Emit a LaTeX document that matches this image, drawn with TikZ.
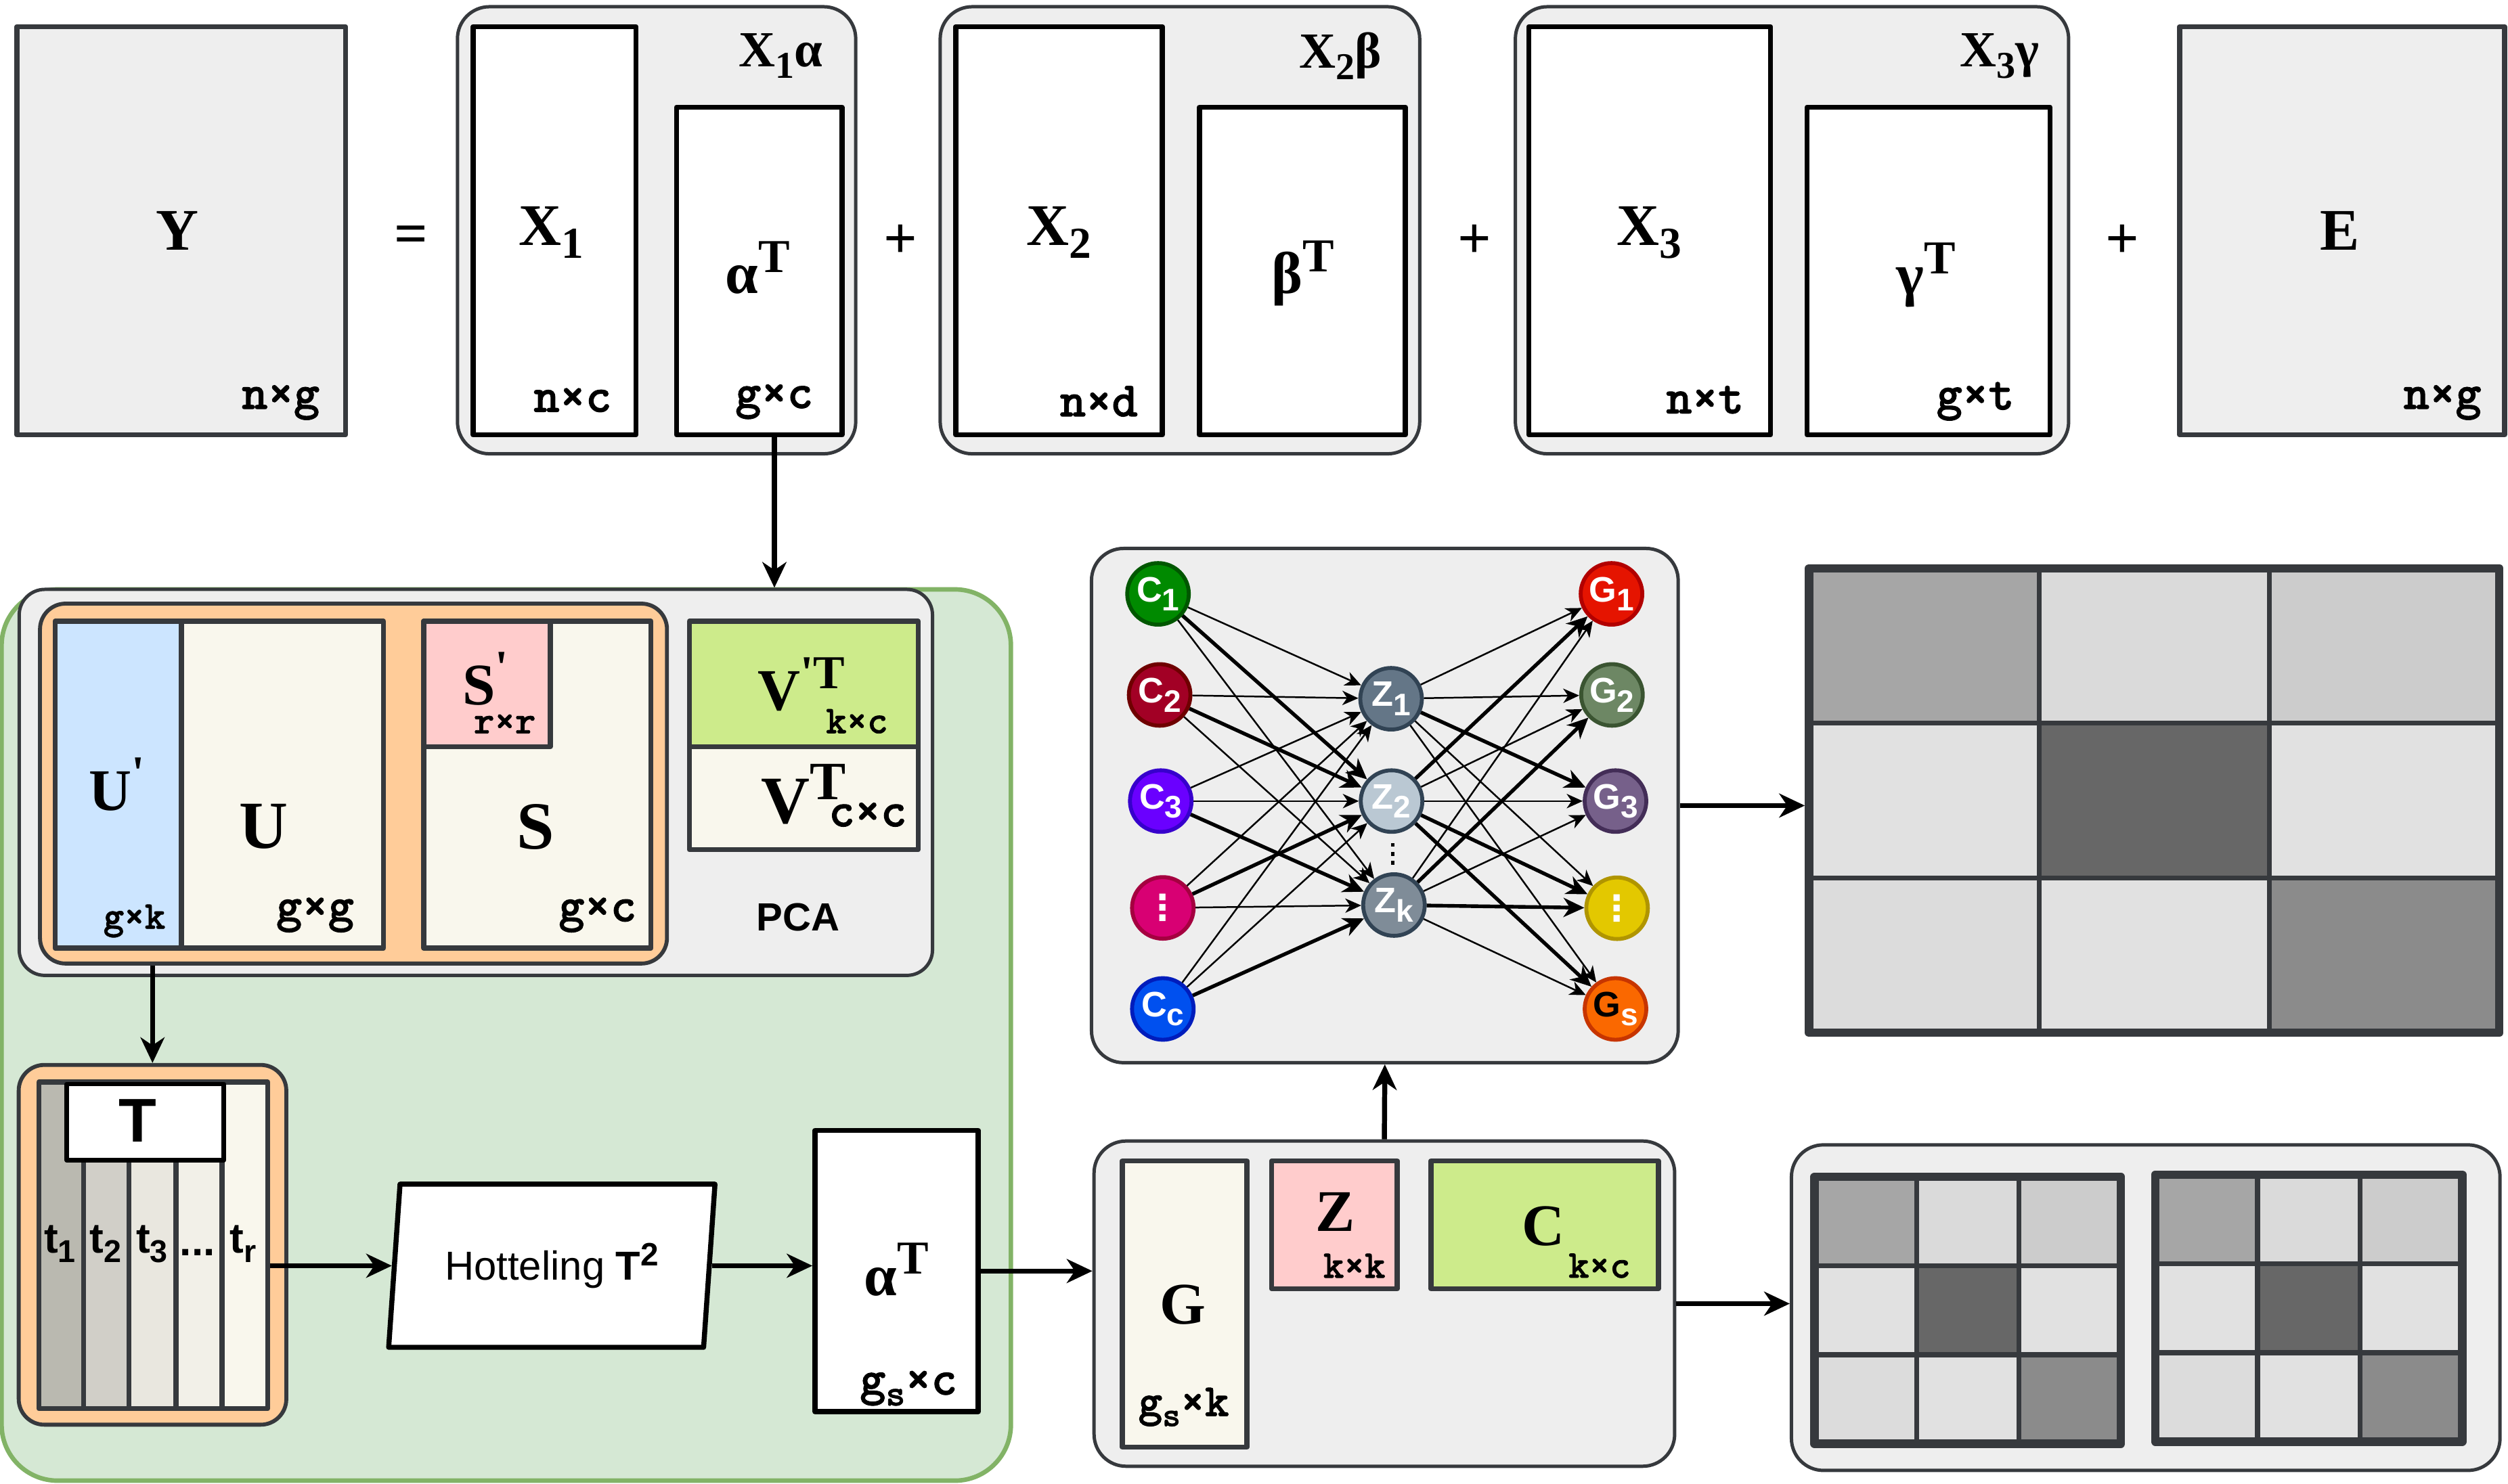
\documentclass[tikz,border=0pt]{standalone}
\usepackage{fontspec}
\setmainfont{Liberation Serif}
\setsansfont{Liberation Sans}
\setmonofont{Liberation Mono}
\newfontfamily\dejavu{DejaVu Sans}
\newfontfamily\dimfont{lmmonolt10-bold}[Extension=.otf, FakeBold=1.3]
\usetikzlibrary{arrows.meta,shapes.geometric,fit}

\definecolor{grpfill}{HTML}{EEEEEE}
\definecolor{grpline}{HTML}{36393D}
\definecolor{pcagreen}{HTML}{D5E8D4}
\definecolor{pcagreenline}{HTML}{82B366}
\definecolor{svdorange}{HTML}{FFCC99}
\definecolor{ublue}{HTML}{CCE5FF}
\definecolor{spink}{HTML}{FFCCCC}
\definecolor{cream}{HTML}{F9F7ED}
\definecolor{vlime}{HTML}{CDEB8B}
\definecolor{tcA}{HTML}{BAB9B0}
\definecolor{tcB}{HTML}{D1CFC8}
\definecolor{tcC}{HTML}{E9E7DF}
\definecolor{tcD}{HTML}{F2F0E8}
\definecolor{tcE}{HTML}{F9F7ED}
\definecolor{hA}{HTML}{A6A6A6}
\definecolor{hB}{HTML}{DADADA}
\definecolor{hC}{HTML}{CCCCCC}
\definecolor{hD}{HTML}{E1E1E1}
\definecolor{hE}{HTML}{676767}
\definecolor{hF}{HTML}{DCDCDC}
\definecolor{hG}{HTML}{8B8B8B}
\definecolor{cOne}{HTML}{008A00}\definecolor{cOneD}{HTML}{005700}
\definecolor{cTwo}{HTML}{A20025}\definecolor{cTwoD}{HTML}{6F0000}
\definecolor{cThree}{HTML}{6A00FF}\definecolor{cThreeD}{HTML}{3700CC}
\definecolor{cFour}{HTML}{D80073}\definecolor{cFourD}{HTML}{A50040}
\definecolor{cC}{HTML}{0050EF}\definecolor{cCD}{HTML}{001DBC}
\definecolor{zOne}{HTML}{647687}\definecolor{zTwo}{HTML}{BAC8D3}
\definecolor{zK}{HTML}{7F8C98}\definecolor{zD}{HTML}{314354}
\definecolor{gOne}{HTML}{E51400}\definecolor{gOneD}{HTML}{B20000}
\definecolor{gTwo}{HTML}{6D8764}\definecolor{gTwoD}{HTML}{3A5431}
\definecolor{gThree}{HTML}{76608A}\definecolor{gThreeD}{HTML}{432D57}
\definecolor{gFour}{HTML}{E3C800}\definecolor{gFourD}{HTML}{B09500}
\definecolor{gS}{HTML}{FA6800}\definecolor{gSD}{HTML}{C73500}

\newcommand{\lsub}[1]{\raisebox{-0.22em}{\scalebox{0.75}{#1}}}
\newcommand{\lsup}[1]{\raisebox{0.36em}{\scalebox{0.8}{#1}}}
\newcommand{\nsub}[1]{\raisebox{-0.26em}{\scalebox{0.88}{#1}}}
\newcommand{\dimtxt}[2]{{\fontsize{#1}{#1}\selectfont\dimfont #2}}

\tikzset{
  grp/.style={draw=grpline, fill=grpfill, line width=0.6pt, rounded corners=2mm, inner sep=0},
  outer/.style={draw=grpline, fill=grpfill, line width=0.9pt, inner sep=0},
  mat/.style={draw=black, fill=white, line width=0.9pt, inner sep=0},
  part/.style={draw=grpline, line width=0.9pt, inner sep=0},
  matlbl/.style={font=\fontsize{10.5}{12}\selectfont\bfseries, inner sep=0},
  matlblL/.style={font=\fontsize{12}{14}\selectfont\bfseries, inner sep=0},
  grplbl/.style={font=\fontsize{9}{11}\selectfont\bfseries, inner sep=0},
  dimlbl/.style={font=\fontsize{8.8}{10}\selectfont\dimfont, inner sep=0},
  dimlblS/.style={font=\fontsize{7}{8}\selectfont\dimfont, inner sep=0},
  sanslbl/.style={font=\fontsize{7}{8}\selectfont\sffamily\bfseries, inner sep=0},
  tlbl/.style={font=\fontsize{7.5}{8}\selectfont\sffamily\bfseries, inner sep=0},
  hotbox/.style={trapezium, trapezium left angle=76, trapezium right angle=104,
    trapezium stretches body, minimum width=20.4mm, minimum height=10.2mm,
    draw=black, fill=white, line width=0.9pt, inner sep=0,
    font=\fontsize{7.2}{9}\selectfont\sffamily},
  nnode/.style={circle, minimum size=3.85mm, inner sep=0, line width=0.7pt, text=white,
    font=\fontsize{6.3}{7}\selectfont\sffamily\bfseries},
  arr/.style={-{Stealth[length=1.6mm, width=1.5mm, inset=0.5mm]}, line width=0.9pt},
  nnthin/.style={-{Stealth[length=1.0mm, width=0.9mm, inset=0.3mm]}, line width=0.3pt},
  nnthick/.style={-{Stealth[length=1.3mm, width=1.2mm, inset=0.4mm]}, line width=0.65pt}
}

\begin{document}
\begin{tikzpicture}[x=0.1mm, y=-0.1mm, line join=round]
	\useasboundingbox (0,0) rectangle (1568,928);
	% top row: Y = X1 alpha + X2 beta + X3 gamma + E
	\node[outer, fit={(10.6,16.6) (216,272)}] (Y) {};
	\node[grp, fit={(286,4.2) (535,283.8)}] (grpa) {};
	\node[grp, fit={(587.8,4.2) (887.6,283.8)}] (grpb) {};
	\node[grp, fit={(947.4,4.2) (1293.3,283.8)}] (grpc) {};
	\node[outer, fit={(1362.7,16.6) (1565.8,272)}] (E) {};
	\node[mat, fit={(295.8,16.6) (397.6,272)}] (X1) {};
	\node[mat, fit={(422.9,67) (526.4,272)}] (alpha) {};
	\node[mat, fit={(597.5,16.6) (726.6,272)}] (X2) {};
	\node[mat, fit={(750,67) (878.6,272)}] (beta) {};
	\node[mat, fit={(955.8,16.6) (1107,272)}] (X3) {};
	\node[mat, fit={(1129.8,67) (1281.6,272)}] (gamma) {};
	\node[matlbl] (ylbl) at (111,144.5) {Y};
	\node[matlbl] (eqsign) at (257,150) {=};
	\node[matlbl] (xalbl) at (344.7,145.5) {X\lsub{1}};
	\node[matlbl] (alphalbl) at (473.7,167.5) {α\lsup{T}};
	\node[grplbl] (grpalbl) at (488,35) {X\lsub{1}α};
	\node[dimlbl] (ydim) at (175.5,251.5) {n×g};
	\node[dimlbl] (xadim) at (358,250) {n×c};
	\node[dimlbl] (alphadim) at (484,251) {g×c};
	\node[matlbl] (plusa) at (563,151) {+};
	\node[matlbl] (xblbl) at (662,145.5) {X\lsub{2}};
	\node[matlbl] (betalbl) at (814.7,171) {β\lsup{T}};
	\node[grplbl] (grpblbl) at (838,35) {X\lsub{2}β};
	\node[dimlbl] (xbdim) at (687,251) {n×d};
	\node[matlbl] (plusb) at (921.8,151) {+};
	\node[matlbl] (xclbl) at (1031,145.5) {X\lsub{3}};
	\node[matlbl] (gammalbl) at (1204,172) {γ\lsup{T}};
	\node[grplbl] (grpclbl) at (1250,35) {X\lsub{3}γ};
	\node[dimlbl] (xcdim) at (1066,250) {n×t};
	\node[dimlbl] (gammadim) at (1235,251) {g×t};
	\node[matlbl] (plusc) at (1326.7,151) {+};
	\node[matlbl] (elbl) at (1463,144.5) {E};
	\node[dimlbl] (edim) at (1527,251.5) {n×g};
	% green area with PCA and Hotteling
	\node[draw=pcagreenline, fill=pcagreen, line width=0.8pt, rounded corners=3.5mm, inner sep=0, fit={(1,368.6) (632,926)}] (green) {};
	\node[grp, rounded corners=1.6mm, fit={(12,368.6) (583,610)}] (pca) {};
	\node[part, fill=svdorange, line width=0.7pt, rounded corners=1.6mm, fit={(25,377.5) (417,602.6)}] (svd) {};
	\node[part, fill=ublue, fit={(34.4,388.5) (113.4,593)}] (uprime) {};
	\node[part, fill=cream, fit={(113.4,388.5) (239.7,593)}] (umat) {};
	\node[part, fill=cream, fit={(265,388.5) (407,593)}] (smat) {};
	\node[part, fill=spink, fit={(265,388.5) (344,467)}] (sprime) {};
	\node[part, fill=vlime, fit={(431,388.5) (574,467)}] (vprime) {};
	\node[part, fill=cream, fit={(431,467) (574,531.4)}] (vmat) {};
	\node[matlbl] (uplbl) at (73,490.5) {U\lsup{\textquotesingle}};
	\node[matlblL] (ulbl) at (165,517) {U};
	\node[matlblL] (slbl) at (335,517) {S};
	\node[matlbl, anchor=base west] (splbl) at (288.5,440.6)
		{S\rlap{\lsup{\textquotesingle}}\hspace{-1.35mm}\raisebox{-1.8mm}{\dimtxt{7}{r×r}}};
	\node[matlbl, anchor=base west] (vplbl) at (473,444)
		{V\rlap{\lsup{\textquotesingle T}}\hspace{1.6mm}\raisebox{-1.45mm}{\dimtxt{7}{k×c}}};
	\node[matlblL, anchor=base west] (vlbl) at (475,515)
		{V\rlap{\lsup{T}}\hspace{1.2mm}\raisebox{-0.18mm}{\dimtxt{8.8}{c×c}}};
	\node[dimlblS] (updim) at (84,576) {g×k};
	\node[dimlbl] (udim) at (197,572) {g×g};
	\node[dimlbl] (sdim) at (373.6,572) {g×c};
	\node[sanslbl] (pcalbl) at (499,573.5) {PCA};
	% T scores
	\node[part, fill=svdorange, line width=0.7pt, rounded corners=1.6mm, fit={(11.7,666) (179,891)}] (tbox) {};
	\foreach \i/\xa/\xb/\tc in {1/24.3/52.3/tcA, 2/52.3/80.7/tcB, 3/80.7/110/tcC, 4/110/138.8/tcD, 5/138.8/167.3/tcE}
		\node[part, fill=\tc, fit={(\xa,676.7) (\xb,881)}] (tc\i) {};
	\node[mat, line width=0.8pt, fit={(41.8,678) (140,725.7)}] (thead) {};
	\node[sanslbl, font=\fontsize{11}{12}\selectfont\sffamily\bfseries] (tlbl) at (86,701) {T};
	\foreach \i/\x/\txt in {1/37.5/{t\lsub{1}}, 2/66/{t\lsub{2}}, 3/95/{t\lsub{3}}, 5/152/{t\lsub{r}}}
		\node[tlbl] (tl\i) at (\x,778) {\txt};
	\node[tlbl] (tl4) at (123.5,783.4) {...};
	\node[hotbox] (hot) at (345,791.6) {Hotteling \textbf{T\lsup{2}}};
	\node[mat, fit={(509.5,707) (611.6,882.8)}] (alphab) {};
	\node[matlbl] (alphablbl) at (560.5,794) {α\lsup{T}};
	\node[dimlbl] (alphabdim) at (568,868) {g\lsub{s}×c};
	% G Z C
	\node[grp, fit={(684,713.6) (1047,917)}] (ggrp) {};
	\node[part, fill=cream, fit={(701.6,726) (779.6,905)}] (gmat) {};
	\node[part, fill=spink, fit={(795,726) (873.5,806)}] (zmat) {};
	\node[part, fill=vlime, fit={(894.6,726) (1036.8,806)}] (cmat) {};
	\node[matlbl] (glbl) at (739.5,816) {G};
	\node[dimlbl, font=\fontsize{8.2}{9}\selectfont\dimfont] (gdim) at (740,880) {g\lsub{s}×k};
	\node[matlbl] (zlbl) at (835,758) {Z};
	\node[dimlblS] (zdim) at (846.7,791.6) {k×k};
	\node[matlbl] (clbl) at (965,767) {C};
	\node[dimlblS] (cdim) at (1000,791.6) {k×c};
	% network
	\node[grp, fit={(682.4,343) (1049.2,664.6)}] (nn) {};
	\foreach \n/\x/\y/\fc/\dc/\txt in {
		c1/724/371.4/cOne/cOneD/{C\nsub{1}},
		c2/725/434.6/cTwo/cTwoD/{C\nsub{2}},
		c3/725.7/501/cThree/cThreeD/{C\nsub{3}},
		c4/727/567.8/cFour/cFourD/{\dejavu ⋮},
		cc/727/631/cC/cCD/{C\nsub{c}},
		z1/869.7/437/zOne/zD/{Z\nsub{1}},
		z2/870/501/zTwo/zD/{Z\nsub{2}},
		zk/871.5/566/zK/zD/{Z\nsub{k}},
		g1/1007.5/371.4/gOne/gOneD/{G\nsub{1}},
		g2/1007.8/434.6/gTwo/gTwoD/{G\nsub{2}},
		g3/1010/501/gThree/gThreeD/{G\nsub{3}},
		g4/1011/568/gFour/gFourD/{\dejavu ⋮},
		gs/1010/631/gS/gSD/{{\color{black}G}\nsub{s}}}
		\node[nnode, fill=\fc, draw=\dc] (\n) at (\x,\y) {\txt};
	\foreach \d in {528.4,534,539.6}
		\fill (869.5,\d-1.2) rectangle (871.9,\d+1.2);
	\foreach \src/\dst/\wt in {c1/z1/nnthin, c1/z2/nnthick, c1/zk/nnthin,
		c2/z1/nnthin, c2/z2/nnthick, c2/zk/nnthin,
		c3/z1/nnthin, c3/z2/nnthin, c3/zk/nnthick,
		c4/z1/nnthin, c4/z2/nnthick, c4/zk/nnthin,
		cc/z1/nnthin, cc/z2/nnthin, cc/zk/nnthick,
		z1/g1/nnthin, z1/g2/nnthin, z1/g3/nnthick, z1/g4/nnthin, z1/gs/nnthin,
		z2/g1/nnthick, z2/g2/nnthin, z2/g3/nnthin, z2/g4/nnthick, z2/gs/nnthick,
		zk/g1/nnthin, zk/g2/nnthick, zk/g3/nnthin, zk/g4/nnthick, zk/gs/nnthin}
		\draw[\wt] (\src) -- (\dst);
	% heatmaps
	\node[grp, fit={(1120,716) (1563,919.6)}] (hgrp) {};
	\foreach \hn/\xa/\ya/\xb/\yb in {hbig/1131/355.4/1562.6/645.9, hone/1134.4/736/1326/903, htwo/1347.5/734.6/1539.4/901.6}{
		\foreach \ci/\cj/\hc in {0/0/hA,1/0/hB,2/0/hC,0/1/hD,1/1/hE,2/1/hD,0/2/hF,1/2/hD,2/2/hG}{
			\pgfmathsetmacro{\xl}{\xa+(\xb-\xa)*\ci/3}
			\pgfmathsetmacro{\xr}{\xa+(\xb-\xa)*(\ci+1)/3}
			\pgfmathsetmacro{\yt}{\ya+(\yb-\ya)*\cj/3}
			\pgfmathsetmacro{\ybm}{\ya+(\yb-\ya)*(\cj+1)/3}
			\filldraw[fill=\hc, draw=grpline, line width=0.9pt] (\xl,\yt) rectangle (\xr,\ybm);
		}
		\node[draw=grpline, line width=1.5pt, inner sep=0, fit={(\xa,\ya) (\xb,\yb)}] (\hn) {};
	}
	% connectors
	\draw[arr] ([xshift=0.95mm]alpha.south) -- ([xshift=0.95mm]alpha.south |- pca.north);
	\draw[arr] (tbox.north |- svd.south) -- (tbox.north);
	\draw[arr] (hot.west -| tc5.east) -- (hot.west);
	\draw[arr] (hot.east) -- (hot.east -| alphab.west);
	\draw[arr] (alphab.east) -- (alphab.east -| ggrp.west);
	\draw[arr] (ggrp.north) -- (nn.south);
	\draw[arr] (nn.east) -- (nn.east -| hbig.west);
	\draw[arr] (ggrp.east) -- (ggrp.east -| hgrp.west);
\end{tikzpicture}
\end{document}
